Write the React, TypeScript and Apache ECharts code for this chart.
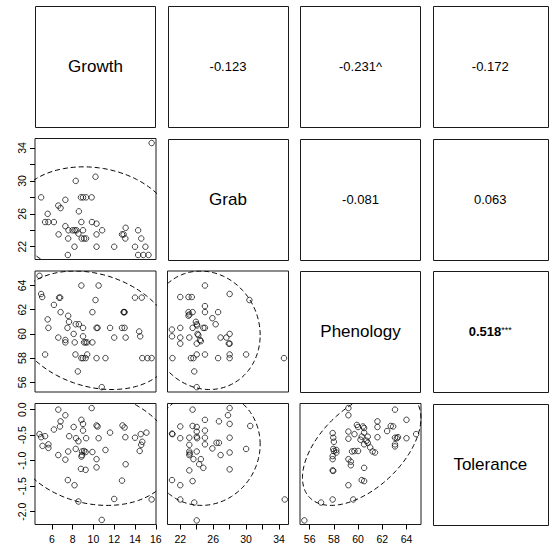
import React, { useEffect, useRef } from "react";
import * as echarts from "echarts";

// ---------- data ----------
const varNames = ["Growth", "Grab", "Phenology", "Tolerance"];
const axisMin = [4.38, 20.45, 55.2, -2.25];
const axisMax = [16.02, 35.15, 65.2, 0.12];
const tickValues = [
  [6, 8, 10, 12, 14, 16],
  [22, 24, 26, 28, 30, 32, 34],
  [56, 58, 60, 62, 64],
  [-2, -1.5, -1, -0.5, 0],
];
const labelValues = [
  [6, 8, 10, 12, 14, 16],
  [22, 26, 30, 34],
  [56, 58, 60, 62, 64],
  [-2, -1.5, -1, -0.5, 0],
];
const labelDecimals = [0, 0, 0, 1];

// ellipse parameters (per variable) and printed correlations
const varMeans = [10.0, 25.0, 60.3, -0.75];
const varSds = [3.17, 2.74, 2.0, 0.46];
const ellipseScale = 2.4477;

const corrPairs = [[0, 1], [0, 2], [0, 3], [1, 2], [1, 3], [2, 3]];
const corrValues = [-0.123, -0.231, -0.172, -0.081, 0.063, 0.518];
const corrMarks = ["", "^", "", "", "", "***"];

const growthGrab = [
  [4.97, 28.0], [5.6, 26.0], [5.35, 25.0], [5.67, 25.0], [6.2, 25.0], [6.62, 27.0], [6.84, 26.7], [7.3, 27.7],
  [8.3, 30.0], [10.2, 30.5], [6.65, 23.5], [7.3, 24.5], [7.57, 23.0], [7.6, 24.0], [7.99, 24.0], [8.2, 24.0],
  [8.37, 24.0], [8.56, 23.6], [8.6, 26.3], [8.84, 25.0], [9.0, 24.0], [8.87, 23.0], [9.1, 23.0], [9.29, 23.0],
  [8.18, 22.0], [7.54, 21.0], [8.8, 28.0], [9.0, 28.0], [9.29, 28.0], [9.83, 28.0], [9.86, 25.0], [10.3, 24.8],
  [10.3, 23.5], [10.84, 24.0], [10.3, 22.0], [12.0, 22.0], [12.75, 23.5], [12.9, 23.5], [13.07, 23.0], [13.1, 24.3],
  [14.0, 22.0], [14.3, 24.0], [14.3, 21.0], [14.6, 23.0], [15.0, 22.0], [14.8, 21.0], [15.3, 21.0], [15.6, 34.6],
];
const growthPhen = [
  [4.81, 64.8], [4.97, 63.3], [5.07, 63.05], [5.6, 61.2], [5.67, 60.5], [5.35, 58.3], [6.2, 62.4], [6.62, 59.7],
  [6.7, 63.0], [6.8, 63.0], [6.84, 61.8], [7.3, 59.5], [7.3, 59.3], [7.5, 60.5], [7.57, 61.5], [7.65, 61.0],
  [8.1, 60.0], [8.2, 59.3], [8.27, 58.3], [8.3, 60.8], [8.5, 56.9], [8.6, 60.8], [8.84, 64.0], [8.84, 58.0],
  [9.0, 58.0], [9.25, 58.0], [9.0, 60.5], [9.0, 59.8], [9.1, 59.3], [9.25, 59.3], [9.4, 59.3], [9.4, 58.3],
  [9.9, 59.3], [9.9, 61.8], [10.2, 62.8], [10.3, 60.5], [10.4, 60.5], [10.5, 64.0], [10.3, 58.0], [10.8, 55.6],
  [11.16, 58.0], [11.6, 60.5], [12.0, 59.7], [12.75, 60.5], [13.0, 60.5], [12.9, 61.8], [12.95, 61.8], [13.0, 61.8],
  [13.1, 59.7], [14.0, 63.0], [14.65, 63.0], [14.4, 60.2], [14.5, 59.8], [14.7, 58.0], [15.2, 58.0], [15.6, 58.0],
];
const growthTol = [
  [4.81, -0.48], [4.97, -0.54], [5.35, -0.52], [5.1, -0.71], [5.67, -0.68], [5.67, -0.75], [6.2, -0.39], [6.62, 0.0],
  [6.84, -0.23], [6.78, -0.33], [7.3, -0.11], [6.62, -0.89], [7.3, -0.98], [7.57, -0.82], [7.67, -0.52], [7.54, -1.38],
  [8.18, -1.48], [8.1, -0.34], [8.33, -0.56], [8.56, -0.62], [8.3, -0.77], [8.56, -1.8], [8.84, -0.2], [9.0, -0.28],
  [9.0, -0.41], [8.9, -0.82], [8.9, -0.89], [8.85, -0.92], [9.1, -0.81], [9.25, -0.83], [9.3, -0.56], [8.8, -1.16],
  [9.25, -1.18], [9.83, 0.03], [9.9, -0.83], [10.3, -0.31], [10.4, -0.33], [10.5, -0.56], [10.3, -0.97], [10.3, -1.13],
  [10.8, -2.16], [11.16, -0.79], [11.6, -0.45], [12.0, -1.75], [12.75, -1.39], [12.8, -0.31], [13.0, -0.35], [13.07, -0.54],
  [13.1, -1.07], [14.0, -0.55], [14.55, -0.48], [15.1, -0.45], [14.7, -0.63], [14.6, -0.69], [14.45, -0.81], [15.6, -1.76],
];
const grabPhen = [
  [20.98, 60.36], [21.0, 59.8], [22.0, 60.5], [22.0, 63.05], [22.0, 59.7], [22.0, 59.2], [21.05, 58.0], [23.0, 63.05],
  [23.4, 63.05], [23.0, 61.8], [23.1, 61.6], [23.0, 61.5], [23.5, 61.8], [23.1, 59.7], [23.5, 60.5], [23.9, 61.0],
  [24.0, 60.8], [24.05, 60.7], [24.1, 60.0], [24.2, 59.9], [24.0, 59.2], [24.4, 59.5], [24.5, 59.4], [24.8, 60.5],
  [25.0, 60.5], [25.0, 62.3], [25.0, 61.8], [25.0, 64.0], [24.0, 58.3], [23.3, 58.0], [23.6, 58.0], [23.7, 56.9],
  [24.0, 55.6], [25.0, 58.3], [25.9, 61.3], [26.3, 60.8], [26.6, 61.8], [26.9, 59.7], [26.6, 58.0], [27.6, 59.7],
  [27.9, 59.2], [28.0, 59.2], [28.0, 60.0], [28.0, 58.3], [28.0, 58.0], [28.0, 63.3], [30.0, 58.3], [30.4, 62.8],
  [34.6, 58.0],
];
const grabTol = [
  [23.5, 0.0], [28.0, 0.03], [27.8, -0.11], [25.0, -0.2], [26.7, -0.23], [28.0, -0.28], [30.5, -0.32], [22.0, -0.33],
  [23.5, -0.32], [24.0, -0.34], [21.0, -0.47], [21.05, -0.48], [22.0, -0.56], [23.1, -0.55], [24.0, -0.43], [24.0, -0.53],
  [24.05, -0.56], [25.0, -0.41], [25.0, -0.55], [25.9, -0.76], [26.4, -0.65], [26.7, -0.65], [28.0, -0.55], [25.0, -0.68],
  [23.1, -0.69], [23.1, -0.82], [23.15, -0.86], [23.1, -0.89], [24.0, -0.82], [23.6, -0.97], [24.5, -0.97], [24.3, -1.07],
  [24.8, -1.14], [26.9, -0.89], [28.0, -0.84], [30.0, -0.77], [28.0, -1.17], [23.1, -1.19], [21.0, -1.38], [22.0, -1.48],
  [23.5, -1.4], [22.0, -1.76], [23.7, -1.82], [24.0, -2.17], [34.7, -1.76],
];
const phenTol = [
  [55.56, -2.17], [56.94, -1.82], [57.9, -1.76], [59.6, -1.76], [59.2, -1.48], [59.2, 0.03], [59.2, -0.11], [57.9, -0.46],
  [57.95, -0.55], [58.0, -0.63], [57.95, -0.77], [58.0, -0.81], [57.9, -0.91], [57.9, -0.97], [57.9, -1.19], [57.95, -1.2],
  [58.2, -0.79], [58.2, -0.84], [59.2, -0.43], [59.2, -0.57], [59.7, -0.48], [59.9, -0.3], [60.0, -0.34], [60.4, -0.33],
  [60.5, -0.36], [60.5, -0.45], [60.3, -0.53], [60.2, -0.59], [60.8, -0.53], [60.7, -0.61], [60.8, -0.65], [60.5, -0.68],
  [60.0, -0.81], [59.7, -0.81], [59.5, -0.82], [59.2, -0.97], [59.4, -1.02], [59.4, -1.09], [60.5, -1.14], [60.3, -1.38],
  [60.5, -1.4], [61.0, -0.74], [61.2, -0.82], [61.4, -0.84], [61.6, -0.23], [61.6, -0.34], [61.6, -0.54], [62.4, -0.42],
  [62.7, -0.32], [62.9, -0.33], [63.05, 0.0], [63.05, -0.55], [63.05, -0.68], [63.05, -0.72], [63.2, -0.56], [63.3, -0.54],
  [64.0, -0.2], [64.0, -0.56], [64.8, -0.48],
];

// scatter panels: [row var, col var, data]
const scatterPanels: [number, number, number[][]][] = [
  [1, 0, growthGrab],
  [2, 0, growthPhen],
  [3, 0, growthTol],
  [2, 1, grabPhen],
  [3, 1, grabTol],
  [3, 2, phenTol],
];

// ---------- layout ----------
const PITCH = 132.5;
const LEFT0 = 35;
const TOP0 = 6;
const PANEL = 121;
const LAST_W = 115.5;
const FONT = "'Liberation Sans', Arial, Helvetica, sans-serif";

function colLeft(c: number) { return LEFT0 + PITCH * c; }
function rowTop(r: number) { return TOP0 + PITCH * r; }
function colWidth(c: number) { return c === 3 ? LAST_W : PANEL; }

function corrFor(i: number, j: number) {
  for (let k = 0; k < corrPairs.length; k++) {
    const p = corrPairs[k];
    if ((p[0] === i && p[1] === j) || (p[0] === j && p[1] === i)) return k;
  }
  return -1;
}

function ellipsePoints(xi: number, yi: number) {
  const k = corrFor(xi, yi);
  const r = corrValues[k];
  const ax = ellipseScale * varSds[xi];
  const ay = ellipseScale * varSds[yi];
  const s = Math.sqrt(1 - r * r);
  const pts: number[][] = [];
  for (let t = 0; t <= 200; t++) {
    const a = (t / 200) * Math.PI * 2;
    pts.push([varMeans[xi] + ax * Math.cos(a), varMeans[yi] + ay * (r * Math.cos(a) + s * Math.sin(a))]);
  }
  return pts;
}

function fmt(v: number, d: number) { return v.toFixed(d); }

export default function App() {
  const ref = useRef<HTMLDivElement>(null);
  useEffect(() => {
    if (!ref.current) return;
    const chart = echarts.init(ref.current, undefined, { renderer: "svg" });
    const grids: any[] = [];
    const xAxes: any[] = [];
    const yAxes: any[] = [];
    const series: any[] = [];
    const graphics: any[] = [];

    scatterPanels.forEach(([row, col, data], gi) => {
      grids.push({
        left: colLeft(col), top: rowTop(row), width: colWidth(col), height: PANEL,
        show: true, borderColor: "#1a1a1a", borderWidth: 1, backgroundColor: "transparent",
      });
      const bottom = row === 3;
      const leftSide = col === 0;
      xAxes.push({
        gridIndex: gi, type: "value", position: "bottom", min: axisMin[col], max: axisMax[col],
        axisLine: { show: false, onZero: false }, splitLine: { show: false },
        axisTick: { show: bottom, length: 5, customValues: tickValues[col], lineStyle: { color: "#000", width: 1 } },
        axisLabel: {
          show: bottom, customValues: labelValues[col], margin: 9, fontSize: 10.5, color: "#000", fontFamily: FONT,
          formatter: (v: number) => fmt(v, labelDecimals[col]),
        },
      });
      yAxes.push({
        gridIndex: gi, type: "value", position: "left", min: axisMin[row], max: axisMax[row],
        axisLine: { show: false, onZero: false }, splitLine: { show: false },
        axisTick: { show: leftSide, length: 5, customValues: tickValues[row], lineStyle: { color: "#000", width: 1 } },
        axisLabel: {
          show: leftSide, customValues: labelValues[row], rotate: 90, margin: 8, fontSize: 10.5, color: "#000", fontFamily: FONT,
          formatter: (v: number) => fmt(v, labelDecimals[row]),
        },
      });
      series.push({
        type: "scatter", xAxisIndex: gi, yAxisIndex: gi, data, symbol: "circle", symbolSize: 5.5,
        itemStyle: { color: "rgba(0,0,0,0)", borderColor: "#000", borderWidth: 0.9 }, silent: true,
      });
      series.push({
        type: "line", xAxisIndex: gi, yAxisIndex: gi, data: ellipsePoints(col, row), showSymbol: false, symbol: "none",
        clip: true, smooth: false, silent: true,
        lineStyle: { color: "#000", width: 1, type: [5, 3] },
      });
    });

    // diagonal and upper panels
    for (let r = 0; r < 4; r++) {
      for (let c = r; c < 4; c++) {
        const x = colLeft(c), y = rowTop(r), w = colWidth(c);
        graphics.push({
          type: "rect", shape: { x: Math.round(x) + 0.5, y: Math.round(y) + 0.5, width: Math.round(w) - 1, height: PANEL },
          style: { fill: "none", stroke: "#1a1a1a", lineWidth: 1 }, silent: true,
        });
        const cx = x + w / 2, cy = y + PANEL / 2;
        if (r === c) {
          graphics.push({
            type: "text", x: cx, y: cy,
            style: { text: varNames[r], align: "center", verticalAlign: "middle", font: `17px ${FONT}`, fill: "#000" },
            silent: true,
          });
        } else {
          const k = corrFor(r, c);
          const val = corrValues[k].toFixed(3);
          const mark = corrMarks[k];
          if (mark === "***") {
            graphics.push({
              type: "text", x: cx, y: cy,
              style: {
                text: `{b|${val}}{s|${mark}}`, align: "center", verticalAlign: "middle", fill: "#000",
                rich: {
                  b: { fontFamily: FONT, fontSize: 13, fontWeight: "bold", fill: "#000", color: "#000" },
                  s: { fontFamily: FONT, fontSize: 9, fill: "#000", color: "#000", verticalAlign: "top", padding: [0, 0, 4, 0] },
                },
              },
              silent: true,
            });
          } else {
            graphics.push({
              type: "text", x: cx, y: cy,
              style: { text: val + mark, align: "center", verticalAlign: "middle", font: `13px ${FONT}`, fill: "#000" },
              silent: true,
            });
          }
        }
      }
    }

    chart.setOption({
      animation: false,
      backgroundColor: "#fff",
      grid: grids,
      xAxis: xAxes,
      yAxis: yAxes,
      series,
      graphic: graphics,
    });
    return () => chart.dispose();
  }, []);
  return <div ref={ref} style={{ position: "absolute", left: 0, top: 0, width: 549, height: 550 }} />;
}
